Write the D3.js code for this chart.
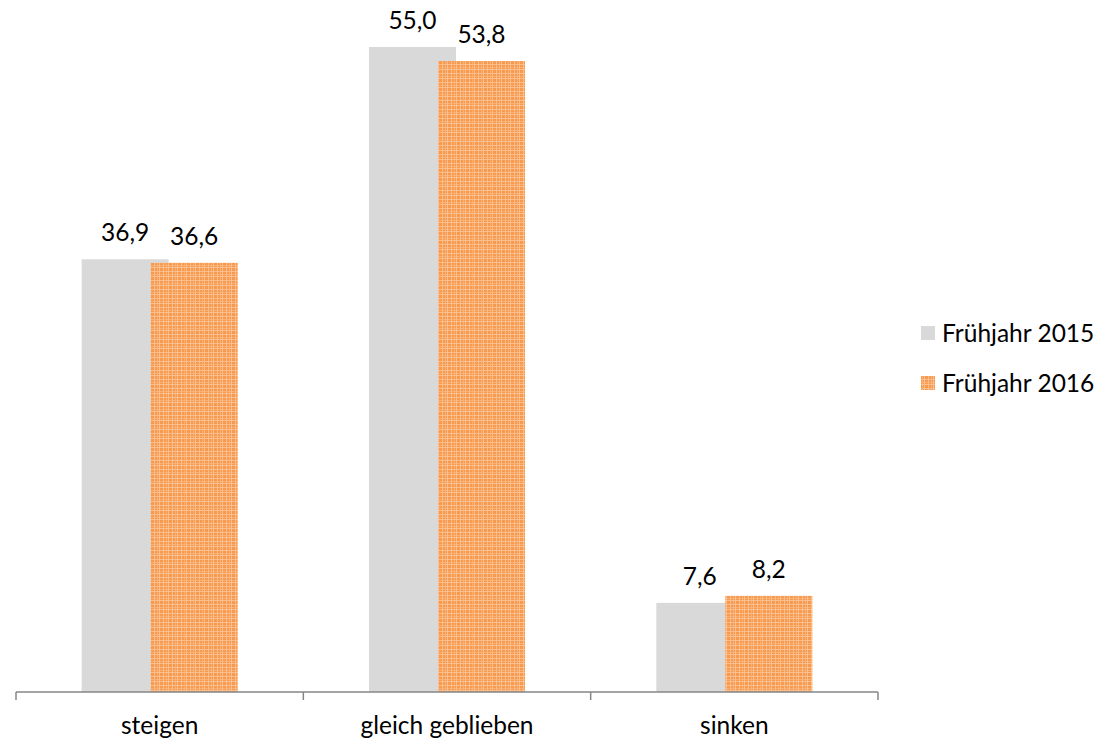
<!DOCTYPE html>
<html><head><meta charset="utf-8">
<script src="https://cdn.jsdelivr.net/npm/d3@7"></script>
<style>body{margin:0;background:#fff}svg{display:block}</style>
</head><body>
<script>
const categories = ["steigen", "gleich geblieben", "sinken"];
const seriesNames = ["Frühjahr 2015", "Frühjahr 2016"];
const values2015 = [36.9, 55.0, 7.6];
const values2016 = [36.6, 53.8, 8.2];

const W = 1095, H = 740;
const svg = d3.select("body").append("svg").attr("width", W).attr("height", H);
const font = "Lato, 'Open Sans', sans-serif";

// pattern
const defs = svg.append("defs");
const pat = defs.append("pattern").attr("id","plaid").attr("patternUnits","userSpaceOnUse")
  .attr("width", 9).attr("height", 9);
pat.append("rect").attr("width",9).attr("height",9).attr("fill","#F79A4E");
[[1,"#FBC69A",1],[4,"#F9B57E",1],[6,"#FBC69A",1]].forEach(([p,c,w])=>{
  pat.append("rect").attr("x",p).attr("y",0).attr("width",w).attr("height",9).attr("fill",c).attr("opacity",0.8);
  pat.append("rect").attr("x",0).attr("y",p).attr("width",9).attr("height",w).attr("fill",c).attr("opacity",0.8);
});

const x0 = d3.scaleBand().domain(categories).range([16, 878]).paddingInner(0).paddingOuter(0);
const y = d3.scaleLinear().domain([0, 55]).range([692, 47]);
const barW = 87, overlap = 18;

const data = categories.map((c,i)=>({c, v:[values2015[i], values2016[i]]}));
const fills = ["#D9D9D9", "url(#plaid)"];

data.forEach(d=>{
  const cx = x0(d.c) + x0.bandwidth()/2;
  const total = 2*barW - overlap;
  const start = cx - total/2;
  d.v.forEach((v,j)=>{
    const bx = start + j*(barW-overlap);
    svg.append("rect").attr("x",bx).attr("y",y(v)).attr("width",barW).attr("height",y(0)-y(v))
      .attr("fill",fills[j]);
  });
  d.v.forEach((v,j)=>{
    const bx = start + j*(barW-overlap);
    svg.append("text").attr("x",bx + barW/2).attr("y",y(v)-18).attr("text-anchor","middle")
      .attr("font-family",font).attr("font-size",24.5).attr("fill","#000")
      .text(d3.format(".1f")(v).replace(".",","));
  });
});

// axis
const ax = svg.append("g").attr("transform","translate(0,692)");
ax.append("line").attr("x1",16).attr("x2",878).attr("stroke","#868686").attr("stroke-width",1.5);
const tickPos = [16].concat(categories.map(c=>x0(c)+x0.bandwidth()));
ax.selectAll(".tk").data(tickPos).enter().append("line")
  .attr("x1",d=>d).attr("x2",d=>d).attr("y1",0).attr("y2",8).attr("stroke","#868686").attr("stroke-width",1.5);
ax.selectAll(".lb").data(categories).enter().append("text")
  .attr("x",d=>x0(d)+x0.bandwidth()/2).attr("y",42).attr("text-anchor","middle")
  .attr("font-family",font).attr("font-size",24.5).attr("fill","#000").text(d=>d);

// legend
const lg = svg.append("g");
seriesNames.forEach((s,i)=>{
  const yy = 326 + i*50;
  lg.append("rect").attr("x",921).attr("y",yy).attr("width",14).attr("height",14).attr("fill",fills[i]);
  lg.append("text").attr("x",942).attr("y",yy+16).attr("font-family",font).attr("font-size",24.5)
    .attr("fill","#000").text(s);
});
</script>
</body></html>
